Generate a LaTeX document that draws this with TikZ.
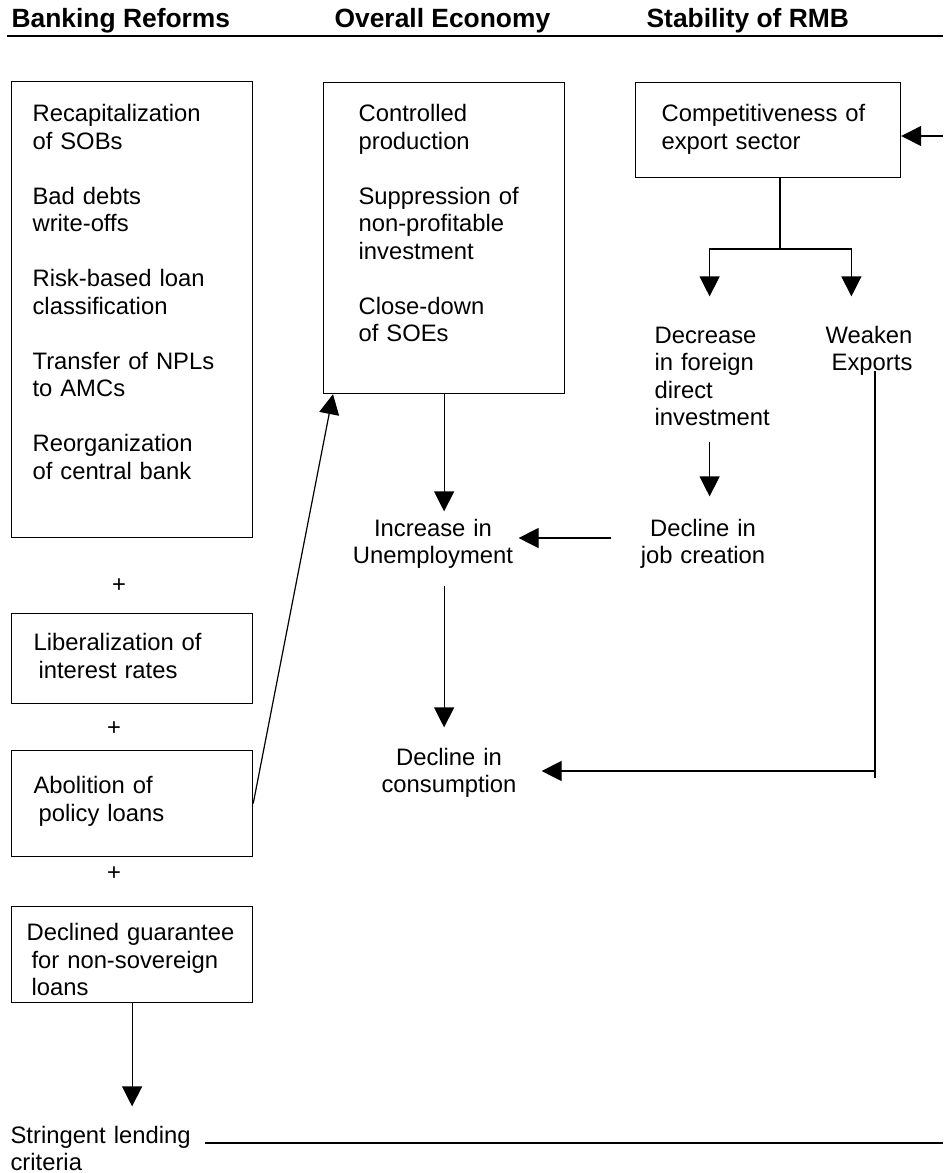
\documentclass[tikz,border=0pt]{standalone}
\usepackage{fontspec}
\setmainfont{Liberation Sans}
\usetikzlibrary{%
  positioning
 ,arrows.meta
}
\newcommand{\txtfont}{\fontsize{11.9}{13.75}\selectfont}
\newcommand{\hdfont}{\bfseries\fontsize{13.2}{16}\selectfont}
\tikzstyle{rbox}=[draw,rectangle,align=left,anchor=north west,inner ysep=0pt,font=\txtfont]
\tikzstyle{txt}=[inner sep=0pt,font=\txtfont]
\tikzstyle{hd}=[anchor=base west,inner sep=0pt,font=\hdfont]
\tikzstyle{arr}=[-{Triangle[length=10pt,width=10pt]}]

\begin{document}
\begin{tikzpicture}[x=0.5pt,y=-0.5pt,line width=0.6pt]
  \useasboundingbox (0,0) rectangle (943,1173);
  % column heads
  \node[hd] (h_bank) at (11,27) {Banking Reforms};
  \node[hd] (h_econ) at (334,27) {Overall Economy};
  \node[hd] (h_rmb) at (646,27) {Stability of RMB};
  \draw[line width=1pt] (7,36) -- (943,36);

  % banking reforms
  \node[rbox,inner xsep=10.5pt,text width=99.5pt,text height=20pt,text depth=208pt] (reforms) at (11,81)
    {Recapitalization\\of SOBs\\[13.75pt]Bad debts\\write-offs\\[13.75pt]Risk-based loan\\classification\\[13.75pt]Transfer of NPLs\\to AMCs\\[13.75pt]Reorganization\\of central bank};
  \node[txt,anchor=base] (plus_a) at (119,592) {+};
  \node[rbox,inner xsep=11pt,text width=98.5pt,text height=18.5pt,text depth=26.5pt] (liberal) at (11,613)
    {Liberalization of\\\hspace*{2.5pt}interest rates};
  \node[txt,anchor=base] (plus_b) at (114,735) {+};
  \node[rbox,inner xsep=11pt,text width=98.5pt,text height=21.5pt,text depth=31.5pt] (abol) at (11,750)
    {Abolition of\\\hspace*{2.5pt}policy loans};
  \node[txt,anchor=base] (plus_c) at (114,880) {+};
  \node[rbox,inner xsep=7.5pt,text width=105.5pt,text height=17pt,text depth=31pt] (decl) at (11,906)
    {Declined guarantee\\\hspace*{2.5pt}for non-sovereign\\\hspace*{2.5pt}loans};
  \node[txt,anchor=base west,align=left,text width=90pt,text height=18pt,text depth=14pt] (strict) at (10,1143)
    {Stringent lending\\criteria};

  % overall economy
  \node[rbox,inner xsep=17.5pt,text width=85.5pt,text height=19.5pt,text depth=136pt] (econ) at (323,82)
    {Controlled\\production\\[13.75pt]Suppression of\\non-profitable\\investment\\[13.75pt]Close-down\\of SOEs};
  \node[txt,anchor=base,align=center,text width=85pt,text height=12pt,text depth=14pt] (unemp) at (433,536)
    {Increase in\\Unemployment};
  \node[txt,anchor=base,align=center,text width=92pt,text height=18.5pt,text depth=24.5pt] (cons) at (449,765)
    {Decline in\\consumption};

  % stability of RMB
  \node[rbox,inner xsep=13pt,text width=106.5pt,text height=19.5pt,text depth=28pt] (comp) at (635,82)
    {Competitiveness of\\export sector};
  \node[txt,anchor=base west,align=left,text width=55pt,text height=23pt,text depth=49pt] (fdi) at (654,343)
    {Decrease\\in foreign\\direct\\investment};
  \node[txt,anchor=base east,align=right,text width=61pt,text height=23pt,text depth=13.5pt] (weaken) at (913,343)
    {Weaken\\Exports};
  \node[txt,anchor=base,align=center,text width=91pt,text height=19.5pt,text depth=21.5pt] (jobs) at (703,536)
    {Decline in\\job creation};

  \coordinate (fork) at (780,249);
  \coordinate (feed) at (943,136);
  \coordinate (turn) at (875,778);
  \coordinate (lineend) at (943,1143);

  % connectors
  \draw[arr] (feed) -- (feed -| comp.east);
  \draw (fork |- comp.south) -- (fork);
  \draw[arr] (fork) -| (fdi.north);
  \draw[arr] (fork) -| (weaken.north);
  \draw[arr] (fdi.south) -- (fdi.south |- jobs.north);
  \draw[arr] (jobs.west) -- (unemp.east);
  \draw[arr] (econ.south) -- (econ.south |- unemp.north);
  \draw[arr,shorten <=10.5pt] (econ.south |- unemp.south) -- (econ.south |- cons.north);
  \draw (weaken.south -| turn) -- (turn);
  \draw[arr] (turn |- cons.east) -- (cons.east);
  \draw[arr] (abol.east) -- ([xshift=5pt]econ.south west);
  \draw[arr] (decl.south) -- (decl.south |- strict.north);
  \draw[shorten <=7pt] (strict.base east) -- (lineend);
\end{tikzpicture}
\end{document}
